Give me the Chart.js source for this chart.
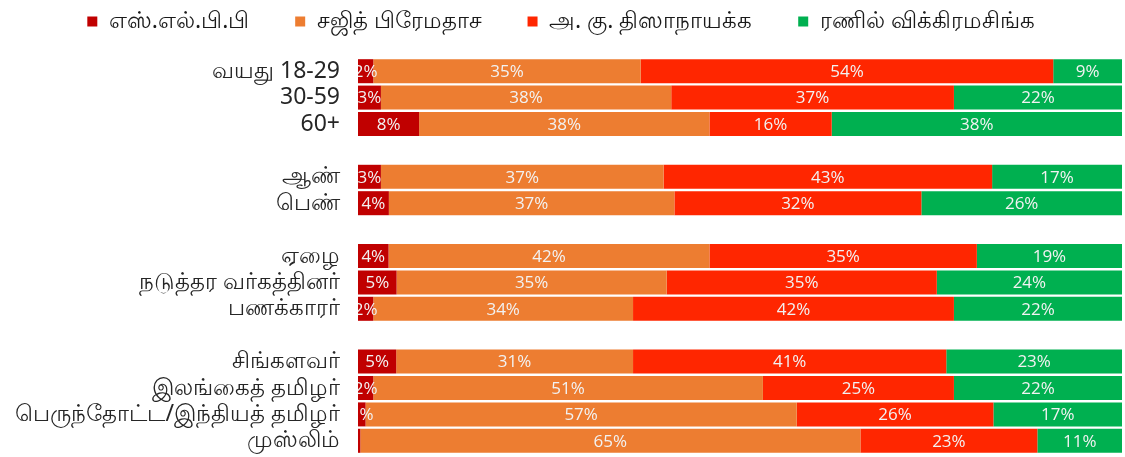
<!DOCTYPE html>
<html>
<head>
<meta charset="utf-8">
<script src="https://cdn.jsdelivr.net/npm/chart.js@4.4.1/dist/chart.umd.min.js"></script>
<style>
  html, body { margin: 0; padding: 0; background: #fff; }
  #wrap { width: 1125px; height: 457px; }
</style>
</head>
<body>
<div id="wrap"><canvas id="Grafico"></canvas></div>
<script>
// categorias (linhas vazias = espaço entre grupos)
const categories = [
  'வயது 18-29', '30-59', '60+', '',
  'ஆண்', 'பெண்', '',
  'ஏழை', 'நடுத்தர வர்கத்தினர்', 'பணக்காரர்', '',
  'சிங்களவர்', 'இலங்கைத் தமிழர்', 'பெருந்தோட்ட/இந்தியத் தமிழர்', 'முஸ்லிம்'
];

const seriesNames = ['எஸ்.எல்.பி.பி', 'சஜித் பிரேமதாச', 'அ. கு. திஸாநாயக்க', 'ரணில் விக்கிரமசிங்க'];
const seriesColors = ['#C00000', '#ED7D31', '#FF2600', '#00B050'];

const slpp   = [2, 3, 8, null, 3, 4, null, 4, 5, 2, null, 5, 2, 1, 0.3];
const sajith = [35, 38, 38, null, 37, 37, null, 42, 35, 34, null, 31, 51, 57, 65];
const akd    = [54, 37, 16, null, 43, 32, null, 35, 35, 42, null, 41, 25, 26, 23];
const ranil  = [9, 22, 38, null, 17, 26, null, 19, 24, 22, null, 23, 22, 17, 11];

const raw = [slpp, sajith, akd, ranil];

// cada linha é normalizada para 100%
const totals = categories.map((c, i) => raw.reduce((s, arr) => s + (arr[i] || 0), 0));

const datasets = raw.map((arr, k) => ({
  label: seriesNames[k],
  data: arr.map((v, i) => v == null ? null : v / totals[i] * 100),
  rawValues: arr,
  backgroundColor: seriesColors[k],
  borderWidth: 0,
  barPercentage: 0.91,
  categoryPercentage: 1.0
}));

// rótulos dentro das barras (cortados na área do gráfico)
const barLabels = {
  id: 'barLabels',
  afterDatasetsDraw(chart) {
    const ctx = chart.ctx;
    const area = chart.chartArea;
    ctx.save();
    ctx.beginPath();
    ctx.rect(area.left, area.top, area.right - area.left, area.bottom - area.top);
    ctx.clip();
    ctx.font = '17px "Open Sans"';
    ctx.fillStyle = '#F2F2F2';
    ctx.textAlign = 'center';
    ctx.textBaseline = 'middle';
    chart.data.datasets.forEach((ds, k) => {
      const meta = chart.getDatasetMeta(k);
      meta.data.forEach((bar, i) => {
        const v = ds.rawValues[i];
        if (v == null || v < 1) return;
        const cx = (bar.x + bar.base) / 2;
        ctx.fillText(Math.round(v) + '%', cx, bar.y + 1);
      });
    });
    ctx.restore();
  }
};

// espaço extra abaixo da legenda
const legendSpacing = {
  id: 'legendSpacing',
  beforeInit(chart) {
    const fit = chart.legend.fit;
    chart.legend.fit = function () {
      fit.call(this);
      this.height += 15;
    };
  }
};

const ctx = document.getElementById('Grafico').getContext('2d');
new Chart(ctx, {
  type: 'bar',
  data: { labels: categories, datasets: datasets },
  options: {
    indexAxis: 'y',
    responsive: true,
    maintainAspectRatio: false,
    animation: false,
    layout: { padding: { top: 0, right: 3, bottom: 3, left: 0 } },
    plugins: {
      legend: {
        position: 'top',
        labels: {
          boxWidth: 10,
          boxHeight: 10,
          padding: 10,
          color: '#1a1a1a',
          font: { size: 23, family: 'Noto Sans, sans-serif' },
          generateLabels(chart) {
            const items = Chart.defaults.plugins.legend.labels.generateLabels(chart);
            items.forEach((it, i) => {
              if (i < items.length - 1) it.text = it.text + '      ';
            });
            return items;
          }
        }
      },
      tooltip: { enabled: false }
    },
    scales: {
      x: {
        stacked: true,
        min: 0,
        max: 100,
        display: false
      },
      y: {
        stacked: true,
        grid: { display: false },
        border: { display: false },
        afterFit(scale) {
          scale.width = 358;
          scale.paddingTop = 0;
          scale.paddingBottom = 0;
        },
        ticks: {
          padding: 10,
          color: '#262626',
          autoSkip: false,
          font: { size: 23, family: 'Noto Sans, sans-serif' }
        }
      }
    }
  },
  plugins: [barLabels, legendSpacing]
});
</script>
</body>
</html>
